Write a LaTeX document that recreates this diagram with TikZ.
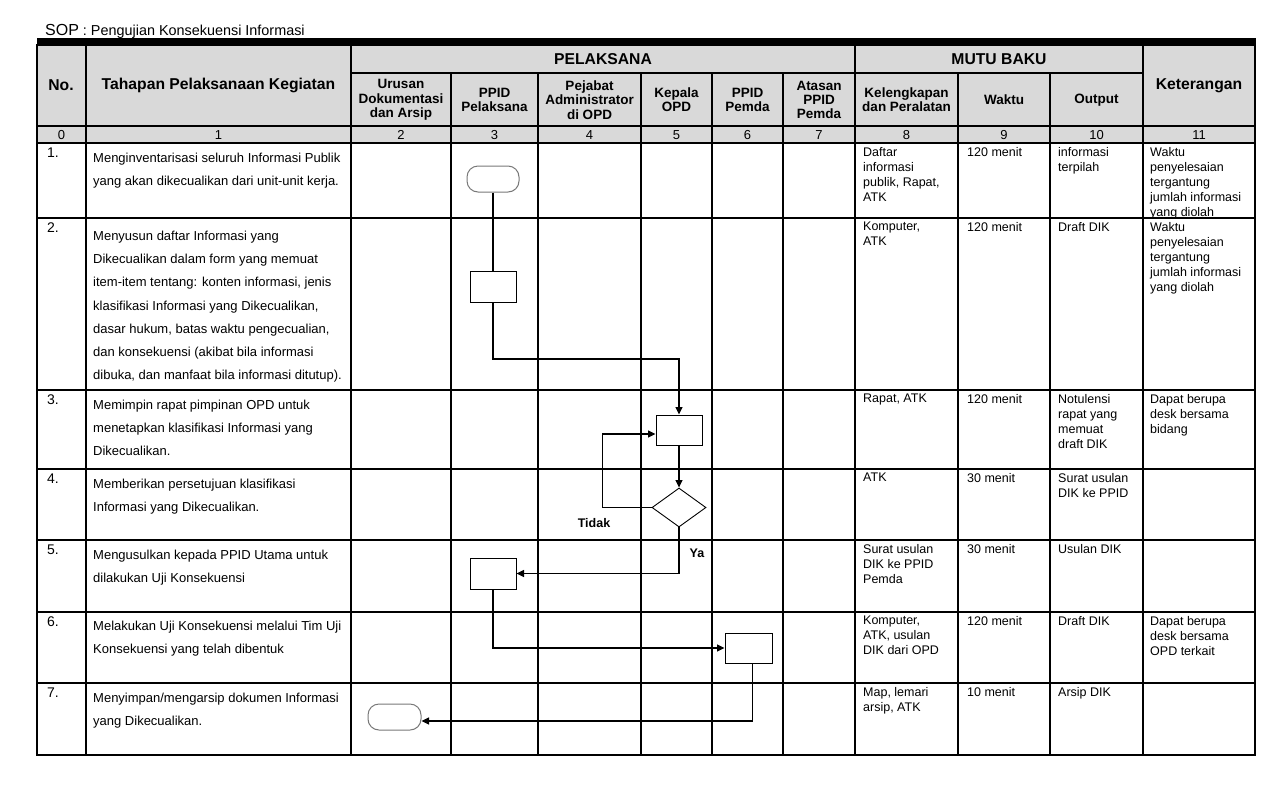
\documentclass[tikz,border=0pt]{standalone}
\usepackage{fontspec}
\setmainfont{Liberation Sans}
\usetikzlibrary{arrows.meta,shapes.geometric}
\definecolor{hdrG}{RGB}{217,217,217}
\definecolor{termG}{RGB}{120,120,120}

\begin{document}
\begin{tikzpicture}[x=1pt,y=-1pt,>={Triangle[length=7.5pt,width=7pt]},
  grid/.style={line width=1.2pt,line cap=rect},
  flow/.style={line width=1.1pt},
  proc/.style={draw,line width=1pt,minimum width=46pt,minimum height=30pt,inner sep=0pt},
  term/.style={draw=termG,line width=1pt,rounded corners=11pt,minimum width=52pt,minimum height=26pt,inner sep=0pt},
  dec/.style={draw,line width=0.9pt,diamond,minimum width=54pt,minimum height=39pt,inner sep=0pt},
  th/.style={font=\bfseries\fontsize{15.7}{18}\selectfont},
  sh/.style={align=center,inner sep=0pt,font=\bfseries\fontsize{13.5}{14.3}\selectfont},
  num/.style={anchor=base,inner sep=0pt,font=\fontsize{13}{15}\selectfont},
  nomor/.style={anchor=north west,inner sep=0pt,font=\fontsize{14}{16}\selectfont},
  tahap/.style={anchor=north west,align=left,inner sep=0pt,font=\fontsize{13}{23.3}\selectfont},
  isi/.style={anchor=north west,align=left,inner sep=0pt,font=\fontsize{12.5}{15}\selectfont},
  lbl/.style={inner sep=0pt,font=\bfseries\fontsize{12.5}{14}\selectfont}]
\useasboundingbox[fill=white] (0,0) rectangle (1287,793);
\node[anchor=base west,inner sep=0pt] (title) at (45,35) {\fontsize{16}{18}\selectfont SOP\fontsize{14.4}{16}\selectfont{} : Pengujian Konsekuensi Informasi};
\fill (37,38) rectangle (1256,45);
\fill[hdrG] (37,45) rectangle (1255,143);
\foreach \y in {45,126,143,218,390,469,540,612,683,755}
  \draw[grid] (37,\y) -- (1255,\y);
\draw[grid] (351,73) -- (1143,73);
\foreach \x in {37,86,351,855,1143,1255}
  \draw[grid] (\x,45) -- (\x,755);
\foreach \x in {451,538,641,712,783,958,1050}
  \draw[grid] (\x,73) -- (\x,755);

\node[th] (hno) at (61,85.5) {No.};
\node[th] (htahap) at (218.5,85.5) {Tahapan Pelaksanaan Kegiatan};
\node[th] (hpel) at (603,59.5) {PELAKSANA};
\node[th] (hmutu) at (999,59.5) {MUTU BAKU};
\node[th] (hket) at (1199,85.5) {Keterangan};
\node[sh] (h2) at (401,100) {Urusan\\Dokumentasi\\dan Arsip};
\node[sh] (h3) at (494.5,100) {PPID\\Pelaksana};
\node[sh] (h4) at (589.5,100) {Pejabat\\Administrator\\di OPD};
\node[sh] (h5) at (676.5,100) {Kepala\\OPD};
\node[sh] (h6) at (747.5,100) {PPID\\Pemda};
\node[sh] (h7) at (819,100) {Atasan\\PPID\\Pemda};
\node[sh] (h8) at (906.5,100) {Kelengkapan\\dan Peralatan};
\node[sh] (h9) at (1004,100) {Waktu};
\node[sh] (h10) at (1096.5,100) {Output};
\foreach \c/\x in {0/61.5,1/218.5,2/401,3/494.5,4/589.5,5/676.5,6/747.5,7/819,8/906.5,9/1004,10/1096.5,11/1199}
  \node[num] (k\c) at (\x,139) {\c};
\foreach \n/\y in {1/143,2/218,3/390,4/469,5/540,6/612,7/683}
  \node[nomor] (no\n) at (47,\y+5) {\n.};

\node[tahap] (t1) at (93,152.5) {Menginventarisasi seluruh Informasi Publik\\yang akan dikecualikan dari unit-unit kerja.};
\node[tahap] (t2) at (93,230.5) {Menyusun daftar Informasi yang\\Dikecualikan dalam form yang memuat\\item-item tentang: konten informasi, jenis\\klasifikasi Informasi yang Dikecualikan,\\dasar hukum, batas waktu pengecualian,\\dan konsekuensi (akibat bila informasi\\dibuka, dan manfaat bila informasi ditutup).};
\node[tahap] (t3) at (93,399.5) {Memimpin rapat pimpinan OPD untuk\\menetapkan klasifikasi Informasi yang\\Dikecualikan.};
\node[tahap] (t4) at (93,478.5) {Memberikan persetujuan klasifikasi\\Informasi yang Dikecualikan.};
\node[tahap] (t5) at (93,550) {Mengusulkan kepada PPID Utama untuk\\dilakukan Uji Konsekuensi};
\node[tahap] (t6) at (93,621) {Melakukan Uji Konsekuensi melalui Tim Uji\\Konsekuensi yang telah dibentuk};
\node[tahap] (t7) at (93,692.5) {Menyimpan/mengarsip dokumen Informasi\\yang Dikecualikan.};

\node[isi] (a1) at (863,147) {Daftar\\informasi\\publik, Rapat,\\ATK};
\node[isi] (a2) at (863,222) {Komputer,\\ATK};
\node[isi] (a3) at (863,394) {Rapat, ATK};
\node[isi] (a4) at (863,473) {ATK};
\node[isi] (a5) at (863,544) {Surat usulan\\DIK ke PPID\\Pemda};
\node[isi] (a6) at (863,616) {Komputer,\\ATK, usulan\\DIK dari OPD};
\node[isi] (a7) at (863,687) {Map, lemari\\arsip, ATK};
\foreach \r/\y/\w in {1/147/120,2/222/120,3/394/120,4/473/30,5/544/30,6/616/120,7/687/10}
  \node[isi] (w\r) at (967,\y) {\w{} menit};
\node[isi] (o1) at (1058,147) {informasi\\terpilah};
\node[isi] (o2) at (1058,222) {Draft DIK};
\node[isi] (o3) at (1058,394) {Notulensi\\rapat yang\\memuat\\draft DIK};
\node[isi] (o4) at (1058,473) {Surat usulan\\DIK ke PPID};
\node[isi] (o5) at (1058,544) {Usulan DIK};
\node[isi] (o6) at (1058,616) {Draft DIK};
\node[isi] (o7) at (1058,687) {Arsip DIK};
\node[isi] (c1) at (1150,147) {Waktu\\penyelesaian\\tergantung\\jumlah informasi\\yang diolah};
\node[isi] (c2) at (1150,222) {Waktu\\penyelesaian\\tergantung\\jumlah informasi\\yang diolah};
\node[isi] (c3) at (1150,394) {Dapat berupa\\desk bersama\\bidang};
\node[isi] (c6) at (1150,616) {Dapat berupa\\desk bersama\\OPD terkait};

\node[term] (start) at (493,179) {};
\node[proc,minimum height=31pt] (s2) at (493,286.5) {};
\node[proc] (s3) at (679,430) {};
\node[dec] (cek) at (679,507.5) {};
\node[proc,minimum height=31pt] (s5) at (493,573.5) {};
\node[proc,minimum width=47pt] (s6) at (748.5,648) {};
\node[term,minimum width=53pt] (stop) at (394.5,717) {};
\node[lbl] (tidak) at (594,523) {Tidak};
\node[lbl] (ya) at (697,553) {Ya};

\draw[flow] (start) -- (s2);
\draw[flow,->] (s2.south) |- (s3.north |- 0,359) -- (s3.north);
\draw[flow,->] (s3) -- (cek);
\draw[flow,->] (cek.west) -- ++(-49,0) |- ([yshift=-4pt]s3.west);
\draw[flow,->] (cek.south) |- (s5.east);
\draw[flow,->] (s5.south) |- (s6.west);
\draw[flow,->] ([xshift=4pt]s6.south) |- ([yshift=-4pt]stop.east);
\end{tikzpicture}
\end{document}
